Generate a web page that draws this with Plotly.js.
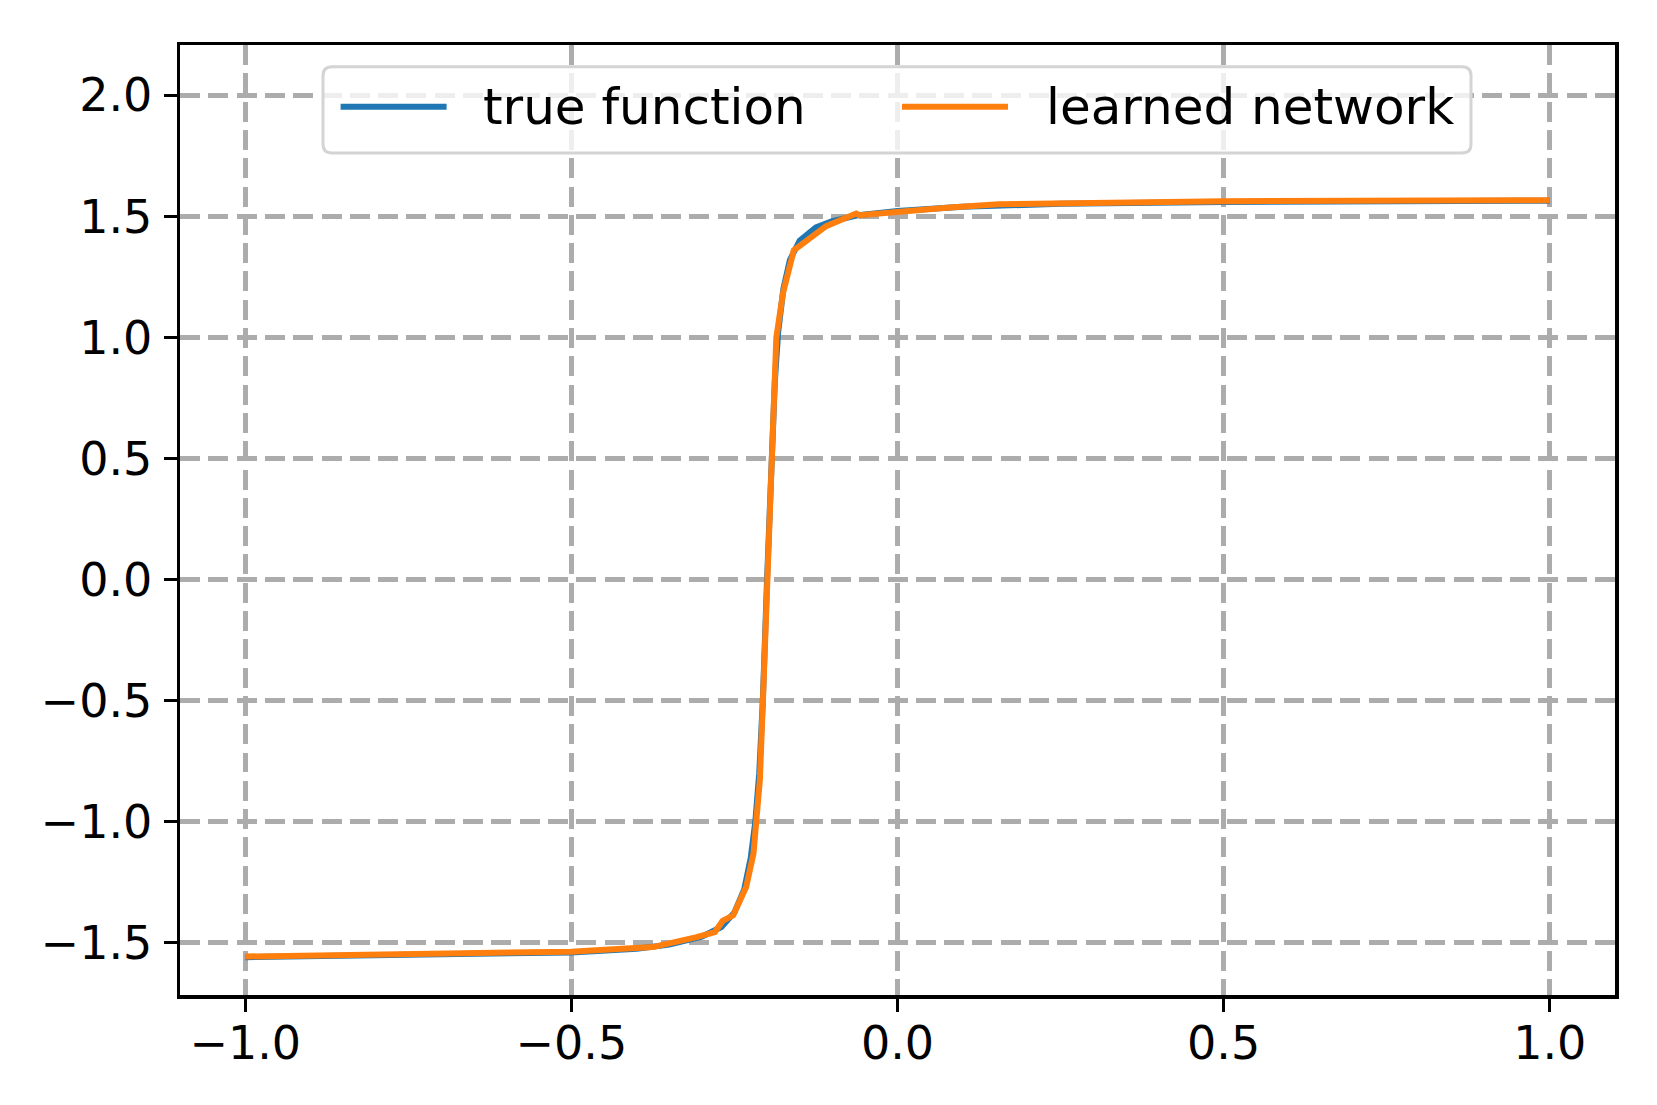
<!DOCTYPE html>
<html>
<head>
<meta charset="utf-8">
<script src="https://cdn.plot.ly/plotly-3.0.1.min.js"></script>
<style>
  html, body { margin: 0; padding: 0; background: #fff; }
  #plot1 { width: 1657px; height: 1105px; }
</style>
</head>
<body>
<div id="plot1"></div>
<script>
// values
let trueX = [-1.0, -0.75, -0.5, -0.4, -0.35, -0.3, -0.27, -0.25, -0.235, -0.225, -0.218, -0.212,
    -0.2065, -0.2, -0.1935, -0.188, -0.183, -0.175, -0.165, -0.15, -0.125, -0.1, -0.06, 0.0,
    0.1, 0.25, 0.5, 0.75, 1.0];
let trueY = [-1.560, -1.553, -1.540, -1.525, -1.508, -1.475, -1.435, -1.375, -1.28, -1.15, -1.0, -0.80,
    -0.5, 0.0, 0.5, 0.82, 1.02, 1.20, 1.32, 1.40, 1.455, 1.48, 1.505, 1.522,
    1.540, 1.552, 1.560, 1.563, 1.565];

let netX = [-1.0, -0.75, -0.5, -0.456, -0.375, -0.308, -0.280, -0.268, -0.252, -0.232, -0.2207, -0.2166,
    -0.211, -0.2063, -0.2002, -0.1935, -0.1884, -0.1858, -0.1756, -0.159, -0.1094, -0.0633, -0.0583,
    -0.002, 0.080, 0.155, 0.5, 1.0];
let netY = [-1.557, -1.550, -1.537, -1.530, -1.518, -1.477, -1.456, -1.410, -1.387, -1.270, -1.131, -1.000,
    -0.828, -0.5, 0.0, 0.500, 0.824, 1.0, 1.182, 1.360, 1.4595, 1.512, 1.505,
    1.519, 1.537, 1.550, 1.563, 1.567];

let seriesNames = ['true function', 'learned network'];
let seriesColors = ['#1f77b4', '#ff7f0e'];

// plot area in pixels, used to place the hand drawn legend
let plotL = 180, plotR = 1615, plotT = 45, plotB = 995;

function px(x) {
    return (x - plotL) / (plotR - plotL);
}
function py(y) {
    return (plotB - y) / (plotB - plotT);
}

function roundedBox(x0, y0, x1, y1, r) {
    let rx = r / (plotR - plotL);
    let ry = r / (plotB - plotT);
    let l = px(x0), rr = px(x1), t = py(y0), b = py(y1);
    return 'M' + (l + rx) + ',' + t +
        ' L' + (rr - rx) + ',' + t +
        ' Q' + rr + ',' + t + ' ' + rr + ',' + (t - ry) +
        ' L' + rr + ',' + (b + ry) +
        ' Q' + rr + ',' + b + ' ' + (rr - rx) + ',' + b +
        ' L' + (l + rx) + ',' + b +
        ' Q' + l + ',' + b + ' ' + l + ',' + (b + ry) +
        ' L' + l + ',' + (t - ry) +
        ' Q' + l + ',' + t + ' ' + (l + rx) + ',' + t + ' Z';
}

let trace0 = {
    x: trueX,
    y: trueY,
    type: 'scatter',
    mode: 'lines',
    name: seriesNames[0],
    line: {color: seriesColors[0], width: 6}
};
let trace1 = {
    x: netX,
    y: netY,
    type: 'scatter',
    mode: 'lines',
    name: seriesNames[1],
    line: {color: seriesColors[1], width: 6}
};

let axisCommon = {
    showline: true,
    linecolor: '#000',
    linewidth: 3.5,
    mirror: true,
    ticks: 'outside',
    ticklen: 13,
    tickwidth: 3,
    tickcolor: '#000',
    showgrid: true,
    gridcolor: '#acacac',
    gridwidth: 5,
    griddash: '20px,8.3px',
    zeroline: false,
    dtick: 0.5,
    tick0: 0,
    tickformat: '.1f',
    tickfont: {family: 'DejaVu Sans', size: 46, color: '#000'}
};

let layout = {
    width: 1657,
    height: 1105,
    margin: {l: plotL, r: 1657 - plotR, t: plotT, b: 1105 - plotB},
    paper_bgcolor: '#fff',
    plot_bgcolor: '#fff',
    showlegend: false,
    xaxis: Object.assign({}, axisCommon, {range: [-1.1, 1.1], ticklabelstandoff: -8}),
    yaxis: Object.assign({}, axisCommon, {range: [-1.716, 2.208], ticklabelstandoff: 2}),
    shapes: [
        {type: 'path', xref: 'paper', yref: 'paper', layer: 'above',
         path: roundedBox(323, 66.7, 1471, 153, 9),
         fillcolor: 'rgba(255,255,255,0.8)', line: {color: '#d4d4d4', width: 3}},
        {type: 'line', xref: 'paper', yref: 'paper', layer: 'above',
         x0: px(340.6), x1: px(446.6), y0: py(106.7), y1: py(106.7),
         line: {color: seriesColors[0], width: 6}},
        {type: 'line', xref: 'paper', yref: 'paper', layer: 'above',
         x0: px(902), x1: px(1008), y0: py(106.7), y1: py(106.7),
         line: {color: seriesColors[1], width: 6}}
    ],
    annotations: [
        {xref: 'paper', yref: 'paper', x: px(481), y: py(107), xanchor: 'left', yanchor: 'middle',
         text: seriesNames[0], showarrow: false,
         font: {family: 'DejaVu Sans', size: 50, color: '#000'}},
        {xref: 'paper', yref: 'paper', x: px(1044), y: py(107), xanchor: 'left', yanchor: 'middle',
         text: seriesNames[1], showarrow: false,
         font: {family: 'DejaVu Sans', size: 50, color: '#000'}}
    ]
};

Plotly.newPlot('plot1', [trace0, trace1], layout, {staticPlot: true});
</script>
</body>
</html>
